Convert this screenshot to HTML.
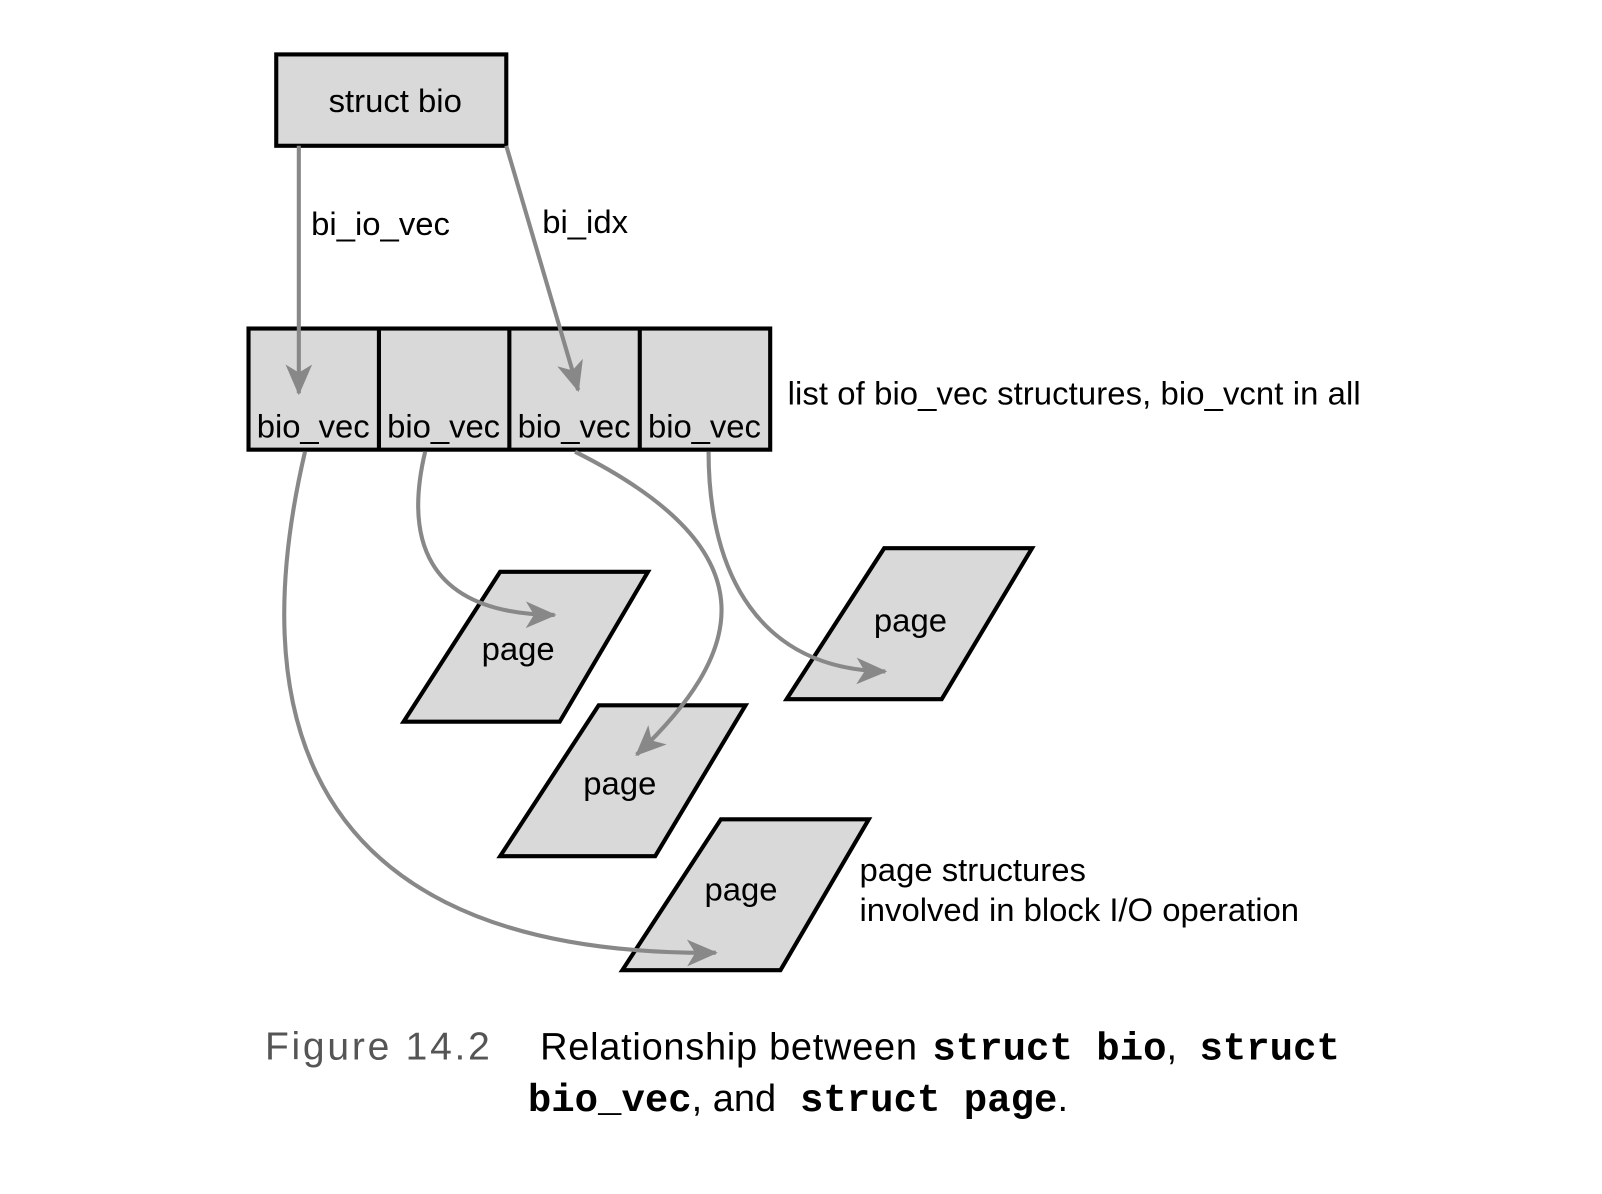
<!DOCTYPE html>
<html><head><style>
html,body{margin:0;padding:0;background:#fff;}
svg{display:block;}
text{font-family:"Liberation Sans",Arial,sans-serif;fill:#000;}
.m{font-family:"Liberation Mono",monospace;font-weight:bold;font-size:38px;}
</style></head><body>
<svg width="1602" height="1194" viewBox="0 0 1560 1163" preserveAspectRatio="none" xmlns="http://www.w3.org/2000/svg">
<defs>
<marker id="a" viewBox="0 0 30 26" refX="28" refY="13" markerWidth="30" markerHeight="26" markerUnits="userSpaceOnUse" orient="auto">
<path d="M0,0 L30,13 L0,26 L8,13 Z" fill="#888"/>
</marker>
</defs>
<g stroke="#000" stroke-width="4" fill="#d9d9d9">
<rect x="269" y="53" width="224" height="89"/>
<rect x="242" y="320" width="508" height="118"/>
<line x1="369" y1="320" x2="369" y2="438"/>
<line x1="496" y1="320" x2="496" y2="438"/>
<line x1="623" y1="320" x2="623" y2="438"/>
<polygon points="393,703 487,557 631,557 545,703"/>
<polygon points="487,834 583,687 726,687 638,834"/>
<polygon points="766,681 861,534 1005,534 917,681"/>
<polygon points="606,945 702,798 846,798 760,945"/>
</g>
<g fill="none" stroke="#888" stroke-width="4" marker-end="url(#a)">
<path d="M291,142 L291,383"/>
<path d="M493,142 L563,380"/>
<path d="M297,440 C255,620 235,932 697,928"/>
<path d="M414,440 C395,520 410,598 540,599"/>
<path d="M560,440 C760,540 720,640 620,735"/>
<path d="M690,440 C690,560 740,652 862,654"/>
</g>
<g font-size="32">
<text x="320" y="109">struct bio</text>
<text x="303" y="229">bi_io_vec</text>
<text x="528" y="227">bi_idx</text>
<text x="250" y="426" textLength="110">bio_vec</text>
<text x="377" y="426" textLength="110">bio_vec</text>
<text x="504" y="426" textLength="110">bio_vec</text>
<text x="631" y="426" textLength="110">bio_vec</text>
<text x="767" y="394" textLength="558">list of bio_vec structures, bio_vcnt in all</text>
<text x="469" y="643">page</text>
<text x="568" y="774">page</text>
<text x="851" y="615">page</text>
<text x="686" y="877">page</text>
<text x="837" y="858">page structures</text>
<text x="837" y="897" textLength="428">involved in block I/O operation</text>
</g>
<text x="258" y="1032" font-size="38" textLength="219" style="fill:#555">Figure 14.2</text>
<text x="526" y="1032" font-size="37"><tspan textLength="367">Relationship between</tspan> <tspan class="m" x="908">struct bio</tspan>, <tspan class="m" x="1168">struct</tspan></text>
<text x="514" y="1082" font-size="37"><tspan class="m">bio_vec</tspan>, and <tspan class="m" x="779">struct page</tspan>.</text>
</svg>
</body></html>
